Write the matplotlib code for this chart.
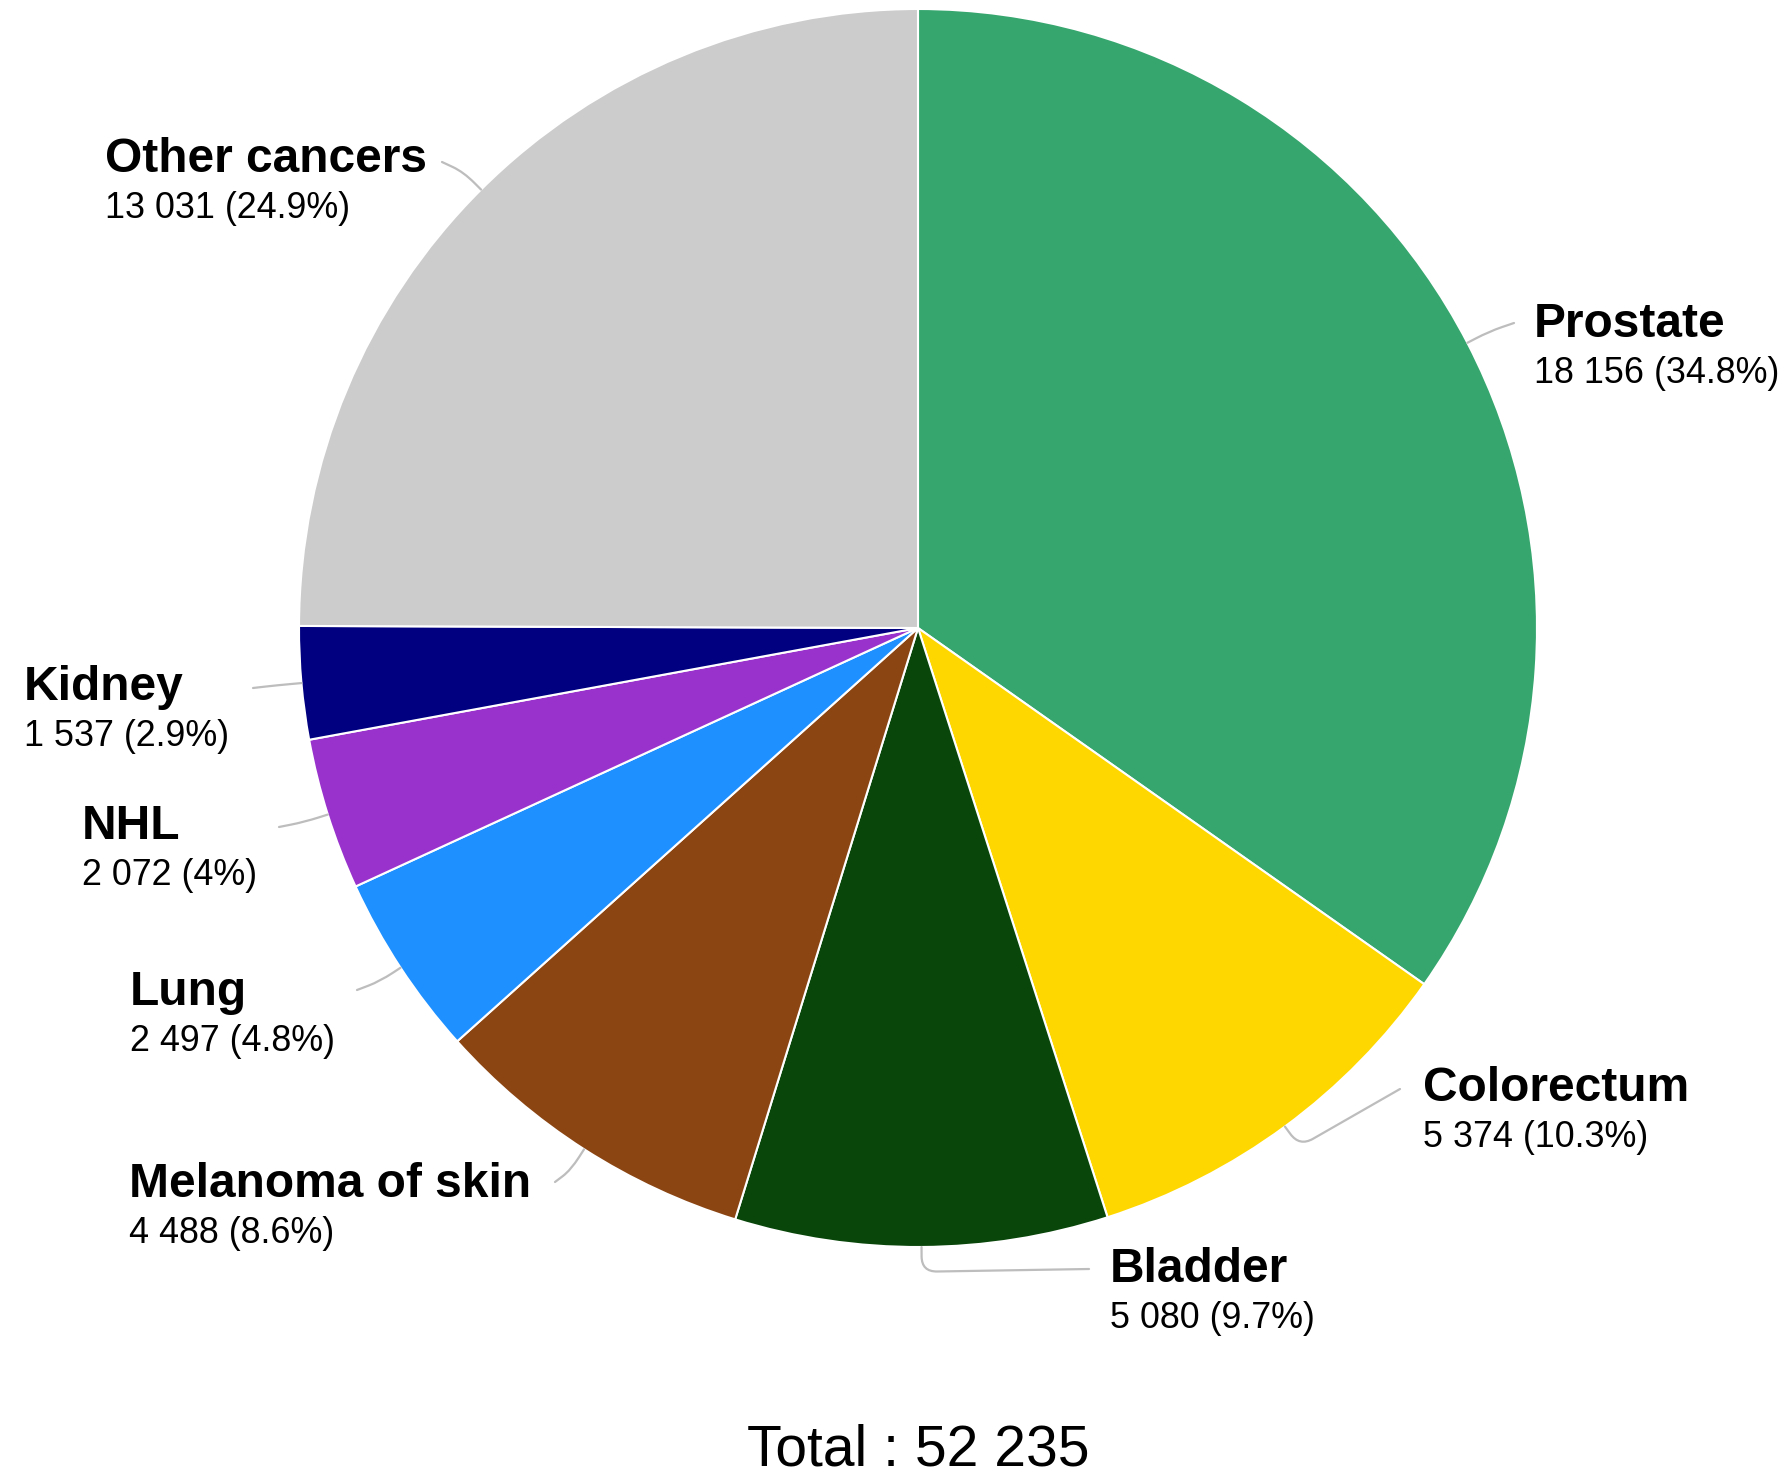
import numpy as np
import matplotlib
matplotlib.use("Agg")
import matplotlib.pyplot as plt
from matplotlib.path import Path
from matplotlib.patches import PathPatch

plt.rcParams['font.family'] = ['Liberation Sans', 'DejaVu Sans']

# Données
labels = ["Prostate", "Colorectum", "Bladder", "Melanoma of skin",
          "Lung", "NHL", "Kidney", "Other cancers"]
values = [18156, 5374, 5080, 4488, 2497, 2072, 1537, 13031]
colors = ["#36a66e", "#ffd700", "#09460a", "#8b4513",
          "#1e90ff", "#9932cc", "#000080", "#cccccc"]

# Position des étiquettes (pixels, coin haut gauche) : x gauche, ligne de base du nom
label_pos = [(1534, 337), (1423, 1101), (1110, 1282), (129, 1197),
             (130, 1005), (82, 839), (24, 700), (105, 172)]
# Fin des traits de liaison (pixels)
line_end = [(1514, 323), (1400, 1089), (1089, 1269), (555, 1182),
            (357, 990), (279, 827), (253, 688), (442, 162)]

W, H = 1788, 1477
CX, CY, R = 918, 628, 619


def px(x, y):
    return (x - CX) / R, (CY - y) / R


def fmt_num(v):
    return f"{v:,}".replace(",", " ")


def fmt_pct(p):
    s = f"{p:.1f}"
    if s.endswith(".0"):
        s = s[:-2]
    return s + "%"


fig = plt.figure(figsize=(W / 100, H / 100), dpi=100)
ax = fig.add_axes([0, 0, 1, 1])
ax.pie(values, colors=colors, startangle=90, counterclock=False, radius=1,
       center=(0, 0), wedgeprops=dict(edgecolor="white", linewidth=1.5))
ax.set_xlim(-CX / R, (W - CX) / R)
ax.set_ylim((CY - H) / R, CY / R)
ax.set_aspect("equal")
ax.axis("off")

total = sum(values)
cum = np.cumsum(values) - np.array(values) / 2
for i, (lab, v) in enumerate(zip(labels, values)):
    theta = np.deg2rad(90 - 360 * cum[i] / total)
    d = np.array([np.cos(theta), np.sin(theta)])
    p0 = d * 1.0
    p1 = d * 1.04
    e = np.array(px(*line_end[i]))
    # coin arrondi
    rc = 0.025
    a = p1 - d * rc
    u = e - p1
    b = p1 + u / np.linalg.norm(u) * min(rc, np.linalg.norm(u) / 2)
    verts = [p0, a, p1, b, e]
    codes = [Path.MOVETO, Path.LINETO, Path.CURVE3, Path.CURVE3, Path.LINETO]
    ax.add_patch(PathPatch(Path(verts, codes), fill=False, edgecolor="#bdbdbd",
                           linewidth=1.6, capstyle="round"))

    lx, ly = px(*label_pos[i])
    ax.text(lx, ly, lab, fontsize=34.5, fontweight="bold", ha="left",
            va="baseline", color="black")
    vx, vy = px(label_pos[i][0], label_pos[i][1] + 46)
    ax.text(vx, vy, f"{fmt_num(v)} ({fmt_pct(100 * v / total)})",
            fontsize=25.8, ha="left", va="baseline", color="black")

tx, ty = px(918, 1466)
ax.text(tx, ty, f"Total : {fmt_num(total)}", fontsize=41, ha="center",
        va="baseline", color="black")

plt.savefig("out.png", dpi=100)
